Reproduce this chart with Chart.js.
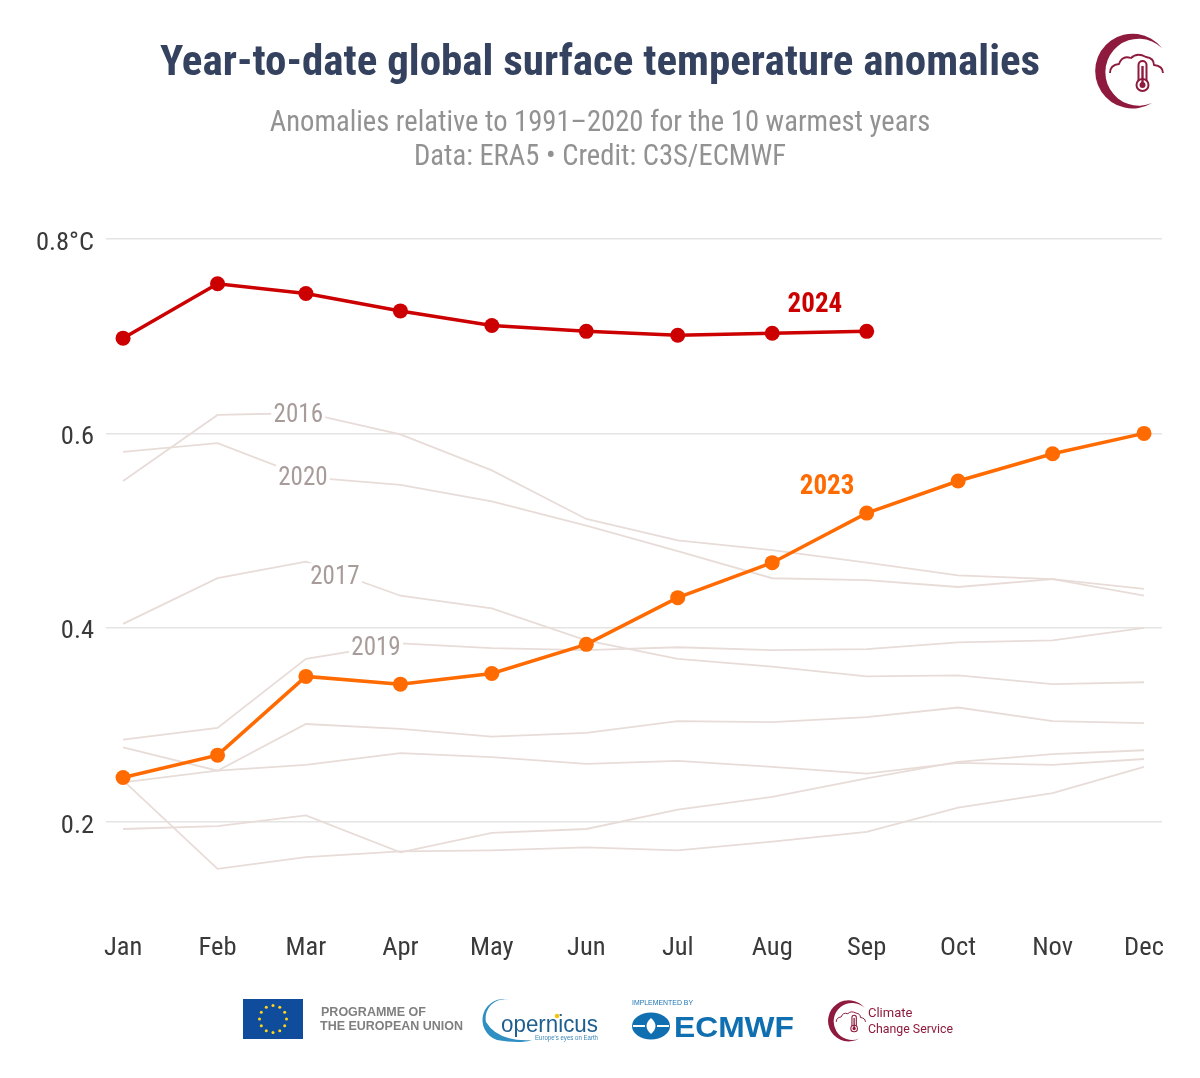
<!DOCTYPE html>
<html lang="en">
<head>
<meta charset="UTF-8">
<title>Year-to-date global surface temperature anomalies</title>
<script src="https://cdn.jsdelivr.net/npm/chart.js"></script>
<style>
    html, body { margin: 0; padding: 0; background: #fff; }
    .page { position: relative; width: 1200px; height: 1078px; overflow: hidden; font-family: Roboto, sans-serif; }
    #chart { position: absolute; left: 0; top: 0; }
    .head { position: absolute; left: 0; width: 1200px; text-align: center; white-space: nowrap; font-stretch: 75%; }
    .title { top: 35px; font-size: 43px; line-height: 50px; font-weight: 700; color: #34425f; }
    .sub { font-size: 28.6px; line-height: 34px; font-weight: 400; color: #929292; }
    svg.logos { position: absolute; left: 0; top: 0; }
</style>
</head>
<body>
<div class="page">
    <canvas id="chart" width="1200" height="1078"></canvas>
    <div class="head title">Year-to-date global surface temperature anomalies</div>
    <div class="head sub" style="top:104px">Anomalies relative to 1991–2020 for the 10 warmest years</div>
    <div class="head sub" style="top:138px">Data: ERA5 • Credit: C3S/ECMWF</div>

    <svg class="logos" width="1200" height="1078" font-family="Liberation Sans, Arial, sans-serif">
        <defs>
            <g id="c3s" fill="none" stroke="#8e1b3e">
                <path d="M1162 48 A37.4 37.4 0 1 0 1152 103 A33.5 33.5 0 1 1 1162 48 Z" fill="#8e1b3e" stroke="none"/>
                <path d="M1110 73 Q1110 65 1119 64 Q1122 55 1131 58 Q1137 52 1146 57 Q1154 58 1154 65 Q1163 66 1163 73" stroke-width="1.8"/>
                <rect x="1138.5" y="61" width="8" height="24" rx="4" fill="#fff" stroke-width="2"/>
                <circle cx="1142.5" cy="85" r="6" fill="#fff" stroke-width="2"/>
                <circle cx="1142.5" cy="85" r="3" fill="#8e1b3e" stroke="none"/>
                <path d="M1142.5 66 V84" stroke-width="2.4"/>
            </g>
        </defs>
        <!-- C3S logo, top right -->
        <use href="#c3s"/>
        <!-- C3S small, same drawing scaled down -->
        <use href="#c3s" transform="translate(828 1001) scale(0.55) translate(-1095 -35)"/>
        <g fill="#8e1b3e" font-family="Roboto, sans-serif" font-size="13">
            <text x="868" y="1017">Climate</text>
            <text x="868" y="1033" textLength="85" lengthAdjust="spacingAndGlyphs">Change Service</text>
        </g>

        <!-- EU flag -->
        <rect x="243" y="999" width="60" height="40" fill="#0f4c9c"/>
        <g id="stars" fill="#ffd617"></g>
        <g fill="#7f7f7f" font-size="12.3" font-weight="700">
            <text x="321" y="1016" textLength="105" lengthAdjust="spacingAndGlyphs">PROGRAMME OF</text>
            <text x="320" y="1030" textLength="143" lengthAdjust="spacingAndGlyphs">THE EUROPEAN UNION</text>
        </g>

        <!-- Copernicus -->
        <path d="M510 1000 A21 21 0 0 0 497 1040 Q520 1044 532 1040 Q498 1042 486 1022 A19 19 0 0 1 510 1000 Z" fill="#2f8ec2"/>
        <text x="501" y="1032" font-size="23" fill="#1f5f8f" textLength="97" lengthAdjust="spacingAndGlyphs">opernicus</text>
        <circle cx="557" cy="1016" r="2.2" fill="#f5c400"/>
        <text x="535" y="1040" font-size="7.5" fill="#3a87b8" textLength="63" lengthAdjust="spacingAndGlyphs">Europe's eyes on Earth</text>

        <!-- ECMWF -->
        <text x="632" y="1005" font-size="6.5" fill="#1c74b5" textLength="61" lengthAdjust="spacingAndGlyphs">IMPLEMENTED BY</text>
        <ellipse cx="651" cy="1026" rx="19" ry="13.5" fill="#0f6fb1"/>
        <path d="M633 1026 H645 M657 1026 H669" stroke="#fff" stroke-width="1.8"/>
        <path d="M651 1018 Q642 1026 651 1034 Q660 1026 651 1018" fill="#fff"/>
        <text x="674" y="1037" font-size="30" font-weight="700" fill="#0f6fb1" textLength="120" lengthAdjust="spacingAndGlyphs">ECMWF</text>
    </svg>
</div>

<script>
    // day of (leap) year each month's value sits on, that's why the spacing is uneven
    const monthDays = [1, 32, 61, 92, 122, 153, 183, 214, 245, 275, 306, 336];
    const monthLabels = ['Jan', 'Feb', 'Mar', 'Apr', 'May', 'Jun', 'Jul', 'Aug', 'Sep', 'Oct', 'Nov', 'Dec'];

    const yTicks = [0.2, 0.4, 0.6, 0.8];
    const yTickLabels = ['0.2', '0.4', '0.6', '0.8°C'];

    const y2024 = [0.698, 0.754, 0.744, 0.726, 0.711, 0.705, 0.701, 0.703, 0.705];
    const y2023 = [0.246, 0.269, 0.350, 0.342, 0.353, 0.383, 0.431, 0.467, 0.518, 0.551, 0.579, 0.600];

    const y2016 = [0.551, 0.619, 0.621, 0.599, 0.562, 0.512, 0.490, 0.480, 0.467, 0.454, 0.450, 0.440];
    const y2020 = [0.581, 0.590, 0.555, 0.547, 0.530, 0.505, 0.479, 0.451, 0.449, 0.442, 0.450, 0.433];
    const y2017 = [0.404, 0.451, 0.468, 0.433, 0.420, 0.387, 0.368, 0.360, 0.350, 0.351, 0.342, 0.344];
    const y2019 = [0.285, 0.297, 0.368, 0.384, 0.379, 0.377, 0.380, 0.377, 0.378, 0.385, 0.387, 0.400];
    const y2018 = [0.277, 0.253, 0.301, 0.296, 0.288, 0.292, 0.304, 0.303, 0.308, 0.318, 0.304, 0.302];
    const y2022 = [0.241, 0.253, 0.259, 0.271, 0.267, 0.260, 0.263, 0.257, 0.250, 0.261, 0.259, 0.265];
    const y2021 = [0.243, 0.152, 0.164, 0.170, 0.171, 0.174, 0.171, 0.180, 0.190, 0.215, 0.230, 0.257];
    const y2015 = [0.193, 0.196, 0.207, 0.169, 0.189, 0.193, 0.213, 0.226, 0.245, 0.262, 0.270, 0.274];

    const greyYears = [y2016, y2020, y2017, y2019, y2018, y2022, y2021, y2015];

    // year labels: text, day, value
    const labelTexts = ['2024', '2023', '2016', '2020', '2017', '2019'];
    const labelDays = [228, 232, 58.5, 60, 70.5, 84];
    const labelValues = [0.734, 0.547, 0.620, 0.555, 0.454, 0.380];
    const labelColors = ['#cc0000', '#ff6b00', '#a89c9a', '#a89c9a', '#a89c9a', '#a89c9a'];

    const toPoints = vals => vals.map((v, i) => ({ x: monthDays[i], y: v }));

    const yearLabels = {
        id: 'yearLabels',
        beforeDraw(chart) {
            // narrow cut of Roboto for everything on the canvas
            chart.ctx.fontStretch = 'condensed';
        },
        afterDatasetsDraw(chart) {
            const ctx = chart.ctx;
            const xs = chart.scales.x, ys = chart.scales.y;
            labelTexts.forEach((txt, i) => {
                const px = xs.getPixelForValue(labelDays[i]);
                const py = ys.getPixelForValue(labelValues[i]);
                const bold = i < 2;
                ctx.save();
                if (!bold) {
                    ctx.fillStyle = '#fff';
                    ctx.fillRect(px - 27, py - 12, 54, 24);
                }
                ctx.font = bold ? '700 27px Roboto' : '400 25px Roboto';
                ctx.fontStretch = 'condensed';
                ctx.textAlign = 'center';
                ctx.textBaseline = 'middle';
                ctx.fillStyle = labelColors[i];
                ctx.fillText(txt, px, py + 2);
                ctx.restore();
            });
        }
    };

    const greySets = greyYears.map(vals => ({
        data: toPoints(vals),
        borderColor: '#e8dcd8',
        borderWidth: 1.8,
        pointRadius: 0,
        tension: 0
    }));

    new Chart(document.getElementById('chart'), {
        type: 'line',
        data: {
            datasets: [
                { data: toPoints(y2024), borderColor: '#cc0000', backgroundColor: '#cc0000', borderWidth: 3.5, pointRadius: 7.5, pointBorderWidth: 0, tension: 0 },
                { data: toPoints(y2023), borderColor: '#ff6b00', backgroundColor: '#ff6b00', borderWidth: 3.5, pointRadius: 7.5, pointBorderWidth: 0, tension: 0 },
                ...greySets
            ]
        },
        options: {
            responsive: false,
            animation: false,
            devicePixelRatio: 1,
            layout: { padding: { top: 239, right: 38, bottom: 0, left: 0 } },
            plugins: { legend: { display: false }, title: { display: false }, tooltip: { enabled: false } },
            scales: {
                x: {
                    type: 'linear',
                    min: -4.6,
                    max: 341.9,
                    grid: { display: false },
                    border: { display: false },
                    afterBuildTicks: s => { s.ticks = monthDays.map(d => ({ value: d })); },
                    afterFit: s => { s.height = 1078 - 919.4; },
                    ticks: {
                        autoSkip: false,
                        maxRotation: 0,
                        padding: 5,
                        color: '#3a3a3a',
                        font: { family: 'Roboto', size: 26.5, weight: 400 },
                        callback: (v, i) => monthLabels[i]
                    }
                },
                y: {
                    min: 0.1,
                    max: 0.8,
                    grid: { color: '#e6e3e3', lineWidth: 1.5, drawTicks: false },
                    border: { display: false },
                    afterBuildTicks: s => { s.ticks = yTicks.map(v => ({ value: v })); },
                    afterFit: s => { s.width = 106; },
                    ticks: {
                        padding: 12,
                        labelOffset: 4,
                        color: '#3a3a3a',
                        font: { family: 'Roboto', size: 26.5, weight: 400 },
                        callback: (v, i) => yTickLabels[i]
                    }
                }
            }
        },
        plugins: [yearLabels]
    });

    // 12 stars of the flag
    const stars = document.getElementById('stars');
    for (let i = 0; i < 12; i++) {
        const a = i * Math.PI / 6;
        const c = document.createElementNS('http://www.w3.org/2000/svg', 'circle');
        c.setAttribute('cx', 273 + 13.5 * Math.sin(a));
        c.setAttribute('cy', 1019 - 13.5 * Math.cos(a));
        c.setAttribute('r', 1.5);
        stars.appendChild(c);
    }
</script>
</body>
</html>
